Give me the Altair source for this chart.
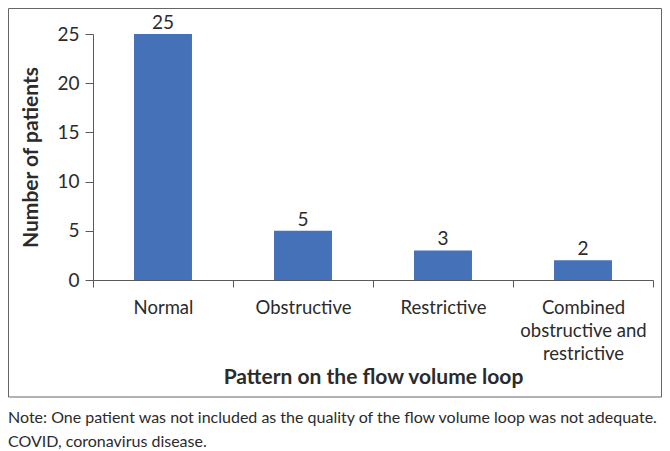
import altair as alt
import pandas as pd

categories = ["Normal", "Obstructive", "Restrictive", "Combined\nobstructive and\nrestrictive"]
counts = [25, 5, 3, 2]
y_ticks = [0, 5, 10, 15, 20, 25]
x_title = "Pattern on the flow volume loop"
y_title = "Number of patients"
note_lines = [
    "Note: One patient was not included as the quality of the flow volume loop was not adequate.",
    "COVID, coronavirus disease.",
]

FONT = "Lato"
TEXT = "#2b2b2b"
LINE = "#595959"
BAR = "#4571b9"

W, H = 560, 246

df = pd.DataFrame({"pattern": categories, "count": counts})

x_enc = alt.X(
    "pattern:N",
    sort=categories,
    scale=alt.Scale(paddingInner=0, paddingOuter=0),
    axis=alt.Axis(
        title=x_title,
        titleFont=FONT,
        titleFontSize=21,
        titleFontWeight="bold",
        titleColor=TEXT,
        titleX=W / 2,
        titleY=103,
        titleAlign="center",
        titleBaseline="alphabetic",
        labelFont=FONT,
        labelFontSize=18.5,
        labelColor=TEXT,
        labelAngle=0,
        labelBaseline="top",
        labelLineHeight=23,
        labelPadding=11,
        labelExpr="split(datum.label, '\\n')",
        tickBand="extent",
        tickSize=7,
        tickColor=LINE,
        domainColor=LINE,
        grid=False,
    ),
)

y_enc = alt.Y(
    "count:Q",
    scale=alt.Scale(domain=[0, 25], nice=False),
    axis=alt.Axis(
        title=y_title,
        values=y_ticks,
        titleFont=FONT,
        titleFontSize=21,
        titleFontWeight="bold",
        titleColor=TEXT,
        titleX=-56,
        titleY=H / 2,
        titleAlign="center",
        titleBaseline="alphabetic",
        titleAngle=270,
        labelFont=FONT,
        labelFontSize=19,
        labelColor=TEXT,
        labelPadding=6,
        tickSize=8,
        tickColor=LINE,
        domainColor=LINE,
        grid=False,
    ),
)

bars = alt.Chart(df).mark_bar(color=BAR, width=alt.RelativeBandSize(0.414)).encode(x=x_enc, y=y_enc)

labels = alt.Chart(df).mark_text(
    font=FONT, fontSize=19, color=TEXT, baseline="alphabetic", dy=-5
).encode(x=alt.X("pattern:N", sort=categories), y="count:Q", text="count:Q")

one = pd.DataFrame({"k": [0]})

box = alt.Chart(one).mark_rect(fill="transparent", stroke="#666666", strokeWidth=1).encode(
    x=alt.value(-84.5), x2=alt.value(568.5), y=alt.value(-25.5), y2=alt.value(363)
)

note = alt.Chart(one).mark_text(
    text=note_lines, font=FONT, fontSize=16, color=TEXT, align="left",
    baseline="alphabetic", lineHeight=24
).encode(x=alt.value(-85), y=alt.value(389))

chart = alt.layer(box, bars, labels, note).properties(
    width=W,
    height=H,
    autosize=alt.AutoSizeParams(type="none"),
    padding={"left": 85, "top": 26, "right": 9, "bottom": 171},
    background="white",
).configure_view(stroke=None)

chart.save("out.html", embed_options={"renderer": "svg", "actions": False})
